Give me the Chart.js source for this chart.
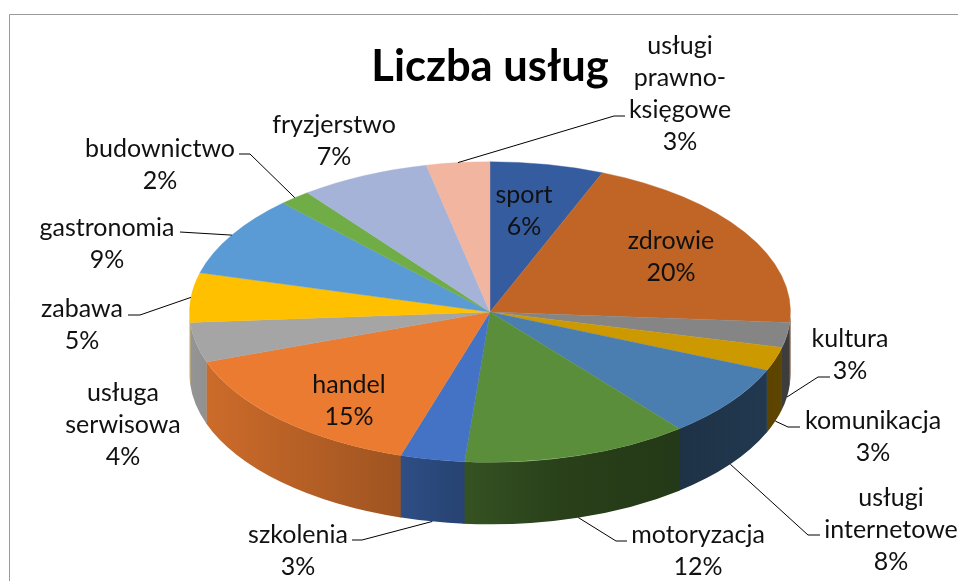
<!DOCTYPE html>
<html>
<head>
<meta charset="utf-8">
<style>
html,body{margin:0;padding:0;background:#fff;overflow:hidden}
#wrap{position:relative;width:958px;height:581px}
</style>
<script src="https://cdn.jsdelivr.net/npm/chart.js@4/dist/chart.umd.min.js"></script>
</head>
<body>
<div id="wrap"><canvas id="c" width="958" height="581"></canvas></div>
<script>
const chartTitle = 'Liczba usług';
const categories = ['sport','zdrowie','kultura','komunikacja','usługi\ninternetowe','motoryzacja','szkolenia','handel','usługa\nserwisowa','zabawa','gastronomia','budownictwo','fryzjerstwo','usługi\nprawno-\nksięgowe'];
const values = [6.1,20.0,2.7,2.55,7.8,12.2,3.45,14.8,4.3,5.3,8.7,1.7,7.0,3.4];
const faceColors = ['#355C9F','#C06526','#858585','#CC9900','#4A7EB0','#5B8E3A','#4472C4','#EA7B30','#A5A5A5','#FFC000','#5B9BD5','#70AD47','#A5B3D8','#F2B5A0'];
const labelCenters = [[524,195],[671,241],[850,339],[873,421],[891,498],[698,535],[298,535],[349,385],[123,393],[82,309],[107,228],[160,149],[334,125],[680,46]];
const leaderElbows = [null,null,[[818,377],[830,377]],[[788,427],[800,427]],[[808,535],[820,535]],[[616,541],[627,541]],[[362,540],[352,540]],null,null,[[140,315],[128,315]],[[180,232]],[[250,154],[239,154]],null,[[614,116],[625,116]]];
const wallShadeStops = [[0,0.9],[0.03,0.87],[0.35,0.68],[0.46,0.58],[0.62,0.45],[0.81,0.40],[1,0.46]];

const pieCenterY = 312, squash = 0.5, depth = 62, radius = 300.5;
const FONT = 'Lato, Carlito, sans-serif';

function shade(hex, k){
  const n = parseInt(hex.slice(1),16);
  return 'rgb(' + [(n>>16)&255,(n>>8)&255,n&255].map(v=>Math.round(v*k)).join(',') + ')';
}

const pie3d = {
  id:'pie3d',
  beforeDraw(chart){
    const ctx = chart.ctx;
    ctx.save();
    ctx.strokeStyle = '#9a9a9a'; ctx.lineWidth = 1;
    ctx.beginPath(); ctx.moveTo(9.5,581); ctx.lineTo(9.5,14.5); ctx.lineTo(958,14.5); ctx.stroke();
    ctx.restore();
  },
  beforeDatasetDraw(chart, args){
    const ctx = chart.ctx, meta = args.meta;
    meta.data.forEach((arc,i)=>{
      const a0 = Math.max(arc.startAngle,0), a1 = Math.min(arc.endAngle+0.004,Math.PI);
      if (a1 <= a0) return;
      const r = arc.outerRadius, g = ctx.createLinearGradient(arc.x-r,0,arc.x+r,0);
      wallShadeStops.forEach(s=>g.addColorStop(s[0],shade(faceColors[i],s[1])));
      ctx.beginPath();
      ctx.ellipse(arc.x,pieCenterY,r,r*squash,0,a0,a1);
      ctx.ellipse(arc.x,pieCenterY+depth,r,r*squash,0,a1,a0,true);
      ctx.closePath();
      ctx.fillStyle = g; ctx.fill();
    });
    ctx.save();
    const cy = meta.data[0].y;
    ctx.translate(0,pieCenterY); ctx.scale(1,squash); ctx.translate(0,-cy);
    meta.controller.draw();
    ctx.restore();
    return false;
  },
  afterDraw(chart){
    const ctx = chart.ctx, meta = chart.getDatasetMeta(0);
    const total = values.reduce((a,b)=>a+b,0);
    ctx.save();
    ctx.strokeStyle = '#000'; ctx.lineWidth = 1;
    meta.data.forEach((arc,i)=>{
      const elbows = leaderElbows[i];
      if (!elbows) return;
      const mid = (arc.startAngle+arc.endAngle)/2, r = arc.outerRadius;
      const sy = Math.sin(mid);
      const ax = arc.x + r*Math.cos(mid);
      const ay = pieCenterY + r*squash*sy + (sy>0?depth:0);
      ctx.beginPath(); ctx.moveTo(ax,ay);
      elbows.forEach(p=>ctx.lineTo(p[0],p[1]));
      ctx.stroke();
    });
    ctx.fillStyle = '#111';
    ctx.font = '25px ' + FONT;
    ctx.textAlign = 'center'; ctx.textBaseline = 'middle';
    categories.forEach((name,i)=>{
      const lines = name.split('\n').concat(Math.round(values[i]/total*100)+'%');
      lines.forEach((t,k)=>ctx.fillText(t,labelCenters[i][0],labelCenters[i][1]+k*32));
    });
    ctx.restore();
  }
};

new Chart(document.getElementById('c'),{
  type:'pie',
  data:{labels:categories,datasets:[{data:values,backgroundColor:faceColors,borderColor:faceColors,borderWidth:0.5}]},
  plugins:[pie3d],
  options:{
    responsive:false,animation:false,radius:radius,
    layout:{padding:{left:22}},
    plugins:{
      legend:{display:false},tooltip:{enabled:false},
      title:{display:true,text:chartTitle,color:'#000',font:{family:FONT,size:43.5,weight:'bold'},padding:{top:41,bottom:10}}
    }
  }
});
</script>
</body>
</html>
